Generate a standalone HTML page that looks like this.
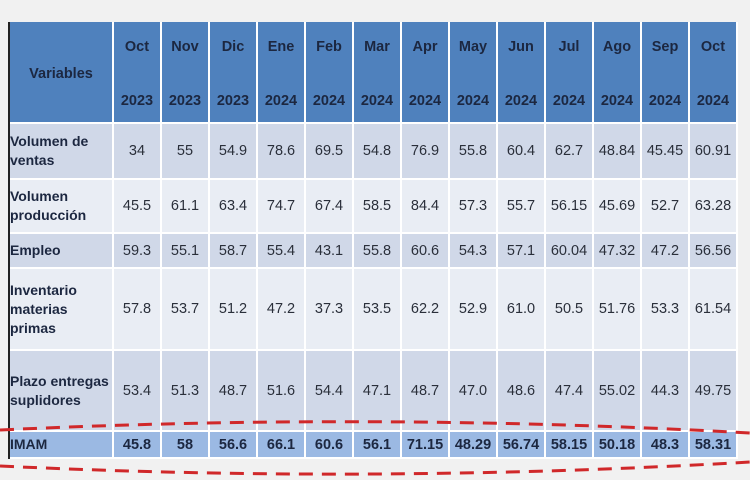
<!DOCTYPE html>
<html><head><meta charset="utf-8"><style>
body{margin:0;width:750px;height:480px;background:#f1f1f1;position:relative;overflow:hidden;font-family:"Liberation Sans",sans-serif;color:#1c2740}
#tbl{position:absolute;left:8px;top:22px;border-left:2px solid #222;background:#fff}
table{border-collapse:separate;border-spacing:2px 2px;margin:-2px 0 0 -2px}
td{text-align:center;font-size:14.5px;padding:0;width:46px;color:#2a2f3a}
td.n{text-align:left;width:102px;font-size:14px;font-weight:bold;line-height:19px;color:#1c2740}
tr.h td{background:#4f81bd;font-weight:bold;height:96px;line-height:27px;font-size:14.5px;color:#1c2740;padding-top:4px}
tr.h td.n{text-align:center}
tr.d td{background:#d0d8e8}
tr.l td{background:#e9edf4}
tr.i td{background:#9bb9e3;font-weight:bold;height:25px;color:#1c2740}
</style></head><body>
<div id="tbl">
<table>
<tr class="h"><td class="n">Variables</td><td>Oct<br><br>2023</td><td>Nov<br><br>2023</td><td>Dic<br><br>2023</td><td>Ene<br><br>2024</td><td>Feb<br><br>2024</td><td>Mar<br><br>2024</td><td>Apr<br><br>2024</td><td>May<br><br>2024</td><td>Jun<br><br>2024</td><td>Jul<br><br>2024</td><td>Ago<br><br>2024</td><td>Sep<br><br>2024</td><td>Oct<br><br>2024</td></tr>
<tr class="d" style="height:54px"><td class="n">Volumen de ventas</td><td>34</td><td>55</td><td>54.9</td><td>78.6</td><td>69.5</td><td>54.8</td><td>76.9</td><td>55.8</td><td>60.4</td><td>62.7</td><td>48.84</td><td>45.45</td><td>60.91</td></tr>
<tr class="l" style="height:52px"><td class="n">Volumen producción</td><td>45.5</td><td>61.1</td><td>63.4</td><td>74.7</td><td>67.4</td><td>58.5</td><td>84.4</td><td>57.3</td><td>55.7</td><td>56.15</td><td>45.69</td><td>52.7</td><td>63.28</td></tr>
<tr class="d" style="height:33px"><td class="n">Empleo</td><td>59.3</td><td>55.1</td><td>58.7</td><td>55.4</td><td>43.1</td><td>55.8</td><td>60.6</td><td>54.3</td><td>57.1</td><td>60.04</td><td>47.32</td><td>47.2</td><td>56.56</td></tr>
<tr class="l" style="height:80px"><td class="n">Inventario materias primas</td><td>57.8</td><td>53.7</td><td>51.2</td><td>47.2</td><td>37.3</td><td>53.5</td><td>62.2</td><td>52.9</td><td>61.0</td><td>50.5</td><td>51.76</td><td>53.3</td><td>61.54</td></tr>
<tr class="d" style="height:79px"><td class="n">Plazo entregas suplidores</td><td>53.4</td><td>51.3</td><td>48.7</td><td>51.6</td><td>54.4</td><td>47.1</td><td>48.7</td><td>47.0</td><td>48.6</td><td>47.4</td><td>55.02</td><td>44.3</td><td>49.75</td></tr>
<tr class="i"><td class="n">IMAM</td><td>45.8</td><td>58</td><td>56.6</td><td>66.1</td><td>60.6</td><td>56.1</td><td>71.15</td><td>48.29</td><td>56.74</td><td>58.15</td><td>50.18</td><td>48.3</td><td>58.31</td></tr>
</table></div>
<svg width="750" height="480" style="position:absolute;left:0;top:0">
<path d="M0,430 Q375,412 750,433" fill="none" stroke="#d0282a" stroke-width="3" stroke-dasharray="14,9"/>
<path d="M0,466 Q375,484 750,462" fill="none" stroke="#d0282a" stroke-width="3" stroke-dasharray="14,9"/>
</svg>
</body></html>
